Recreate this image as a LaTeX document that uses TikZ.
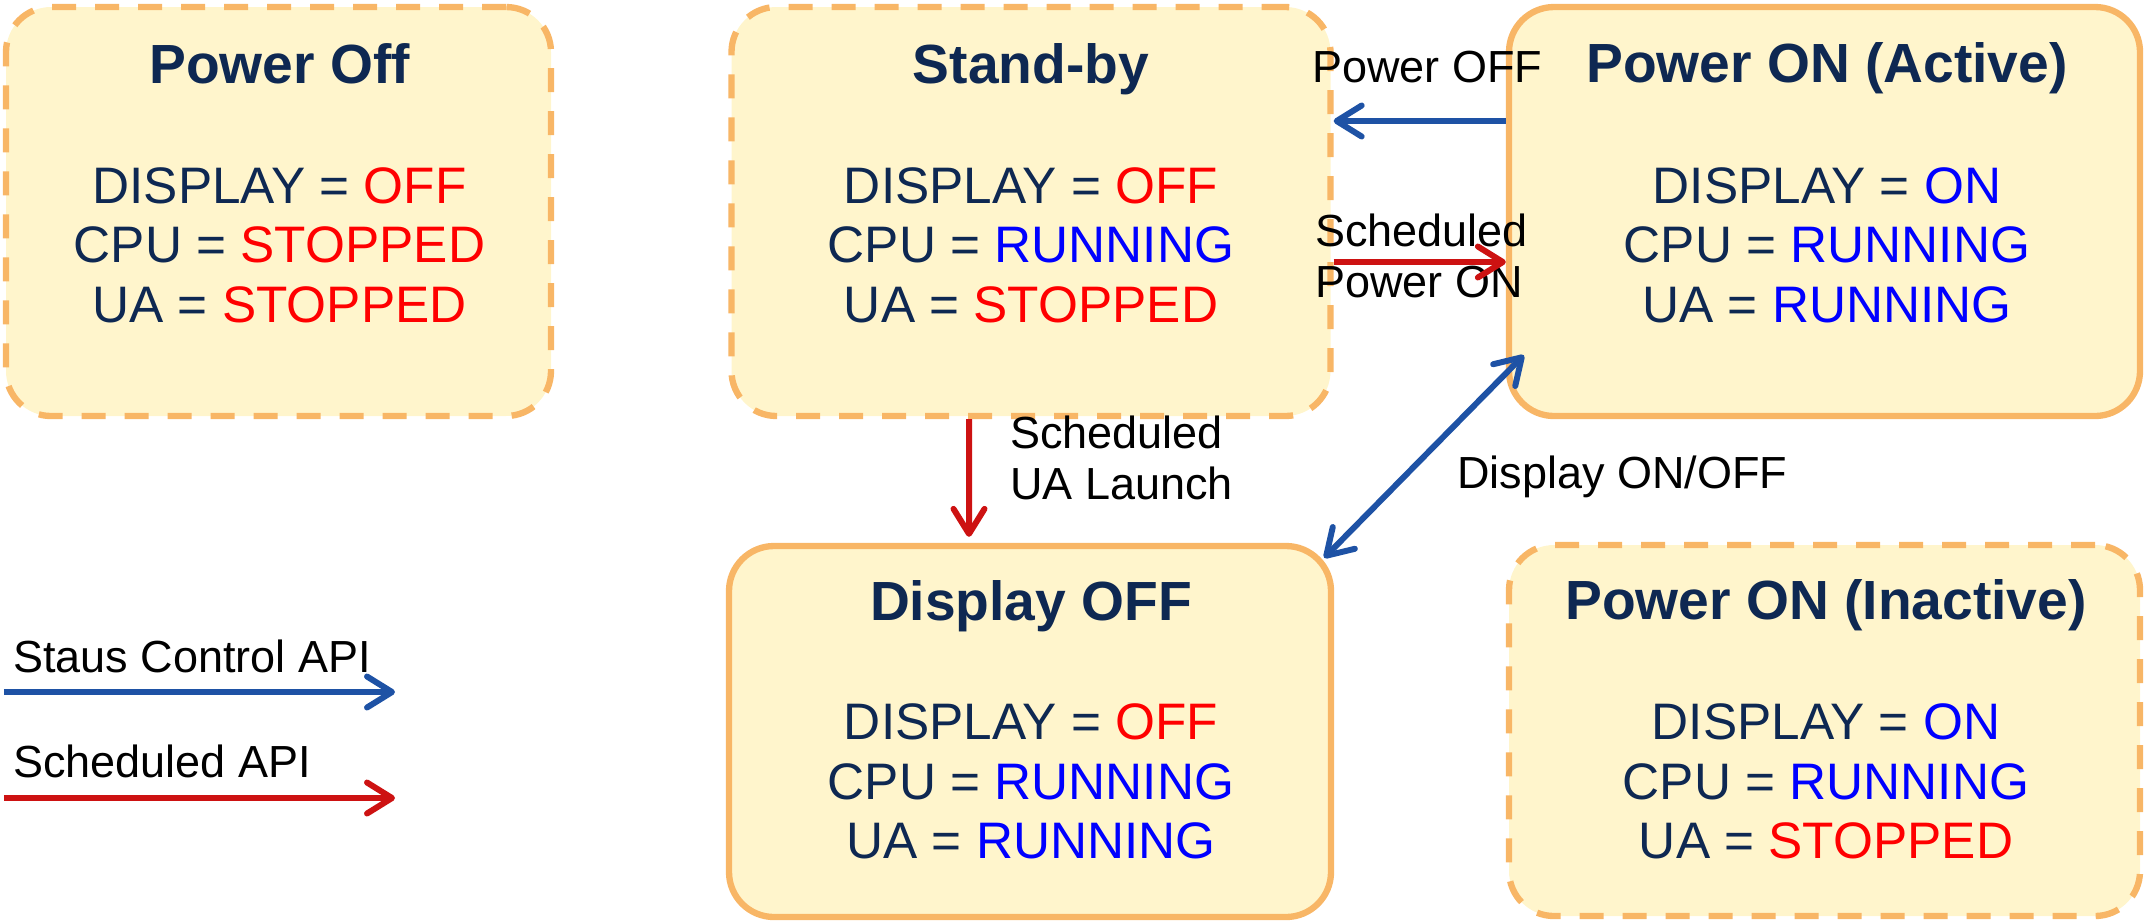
\documentclass[tikz,border=0pt]{standalone}
\usepackage{fontspec}
\setmainfont{Liberation Sans}
\usetikzlibrary{arrows.meta}
\definecolor{boxfill}{RGB}{255,245,204}
\definecolor{boxline}{RGB}{248,182,102}
\definecolor{navy}{RGB}{14,40,82}
\definecolor{arrowblue}{RGB}{30,82,165}
\definecolor{arrowred}{RGB}{205,18,18}
\definecolor{valred}{RGB}{255,0,0}
\definecolor{valblue}{RGB}{0,0,255}
\newcommand{\stopval}[1]{\textcolor{valred}{#1}}
\newcommand{\runval}[1]{\textcolor{valblue}{#1}}

\begin{document}
\begin{tikzpicture}[thick,
	state node/.style={rectangle,rounded corners=4.5mm,draw=boxline,fill=boxfill,line width=1.8pt,inner sep=0pt},
	idle node/.style={state node,dash pattern=on 2.4mm off 1.9mm},
	title node/.style={anchor=base,inner sep=0pt,text=navy,font=\fontsize{15.7}{18}\selectfont\bfseries},
	value node/.style={align=center,inner sep=0pt,text=navy,font=\fontsize{14.6}{16.9}\selectfont},
	label node/.style={inner sep=0pt,font=\fontsize{12.8}{14.7}\selectfont},
	blue arrow/.style={draw=arrowblue,line width=1.7pt,-{Straight Barb[length=2.5mm,width=3.1mm,round]}},
	red arrow/.style={draw=arrowred,line width=1.7pt,-{Straight Barb[length=2.5mm,width=3.1mm,round]}}]
	\useasboundingbox (0, 0) rectangle (21.45, -9.2);

	\node[idle node, minimum width=5.45cm, minimum height=4.09cm] at (2.785, -2.115) (off) {};
	\node[idle node, minimum width=5.99cm, minimum height=4.09cm] at (10.31, -2.115) (stby) {};
	\node[state node, minimum width=6.31cm, minimum height=4.09cm] at (18.245, -2.115) (act) {};
	\node[state node, minimum width=6.02cm, minimum height=3.71cm] at (10.30, -7.315) (dsp) {};
	\node[idle node, minimum width=6.31cm, minimum height=3.71cm] at (18.245, -7.305) (inact) {};

	\node[title node] at (2.795, -0.83) (offt) {Power Off};
	\node[title node] at (10.31, -0.83) (stbyt) {Stand-by};
	\node[title node] at (18.27, -0.82) (actt) {Power ON (Active)};
	\node[title node] at (10.31, -6.20) (dspt) {Display OFF};
	\node[title node] at (18.26, -6.19) (inactt) {Power ON (Inactive)};

	\node[value node] at (2.795, -2.45) (offv) {DISPLAY = \stopval{OFF}\\CPU = \stopval{STOPPED}\\UA = \stopval{STOPPED}};
	\node[value node] at (10.31, -2.45) (stbyv) {DISPLAY = \stopval{OFF}\\CPU = \runval{RUNNING}\\UA = \stopval{STOPPED}};
	\node[value node] at (18.27, -2.45) (actv) {DISPLAY = \runval{ON}\\CPU = \runval{RUNNING}\\UA = \runval{RUNNING}};
	\node[value node] at (10.31, -7.815) (dspv) {DISPLAY = \stopval{OFF}\\CPU = \runval{RUNNING}\\UA = \runval{RUNNING}};
	\node[value node] at (18.26, -7.815) (inactv) {DISPLAY = \runval{ON}\\CPU = \runval{RUNNING}\\UA = \stopval{STOPPED}};

	\node[label node, anchor=base west] at (13.11, -0.82) (poff) {Power OFF};
	\node[label node, anchor=west, align=left] at (13.14, -2.56) (spon) {Scheduled\\Power ON};
	\node[label node, anchor=west, align=left] at (10.09, -4.58) (sual) {Scheduled\\UA Launch};
	\node[label node, anchor=base west] at (14.56, -4.88) (dpon) {Display ON/OFF};
	\node[label node, anchor=base west] at (0.12, -6.72) (lgb) {Staus Control API};
	\node[label node, anchor=base west] at (0.12, -7.77) (lgr) {Scheduled API};

	\coordinate (lb1) at (0.04, -6.92);
	\coordinate (lb2) at (3.95, -6.92);
	\coordinate (lr1) at (0.04, -7.98);
	\coordinate (lr2) at (3.95, -7.98);

	\path
		([yshift=9.05mm]act.west) edge[blue arrow] ([yshift=9.05mm]stby.east)
		([yshift=-5.05mm]stby.east) edge[red arrow] ([yshift=-5.05mm]act.west)
		([xshift=-6.2mm]stby.south) edge[red arrow, shorten >=0.6mm] ([xshift=-6.1mm]dsp.north)
		([shift={(-0.1,-0.15)}]dsp.north east) edge[draw=arrowblue, line width=1.7pt, {Straight Barb[length=2.5mm,width=3.1mm,round]}-{Straight Barb[length=2.5mm,width=3.1mm,round]}] ([shift={(0.18,0.64)}]act.south west)
		(lb1) edge[blue arrow] (lb2)
		(lr1) edge[red arrow] (lr2)
		;
\end{tikzpicture}
\end{document}
